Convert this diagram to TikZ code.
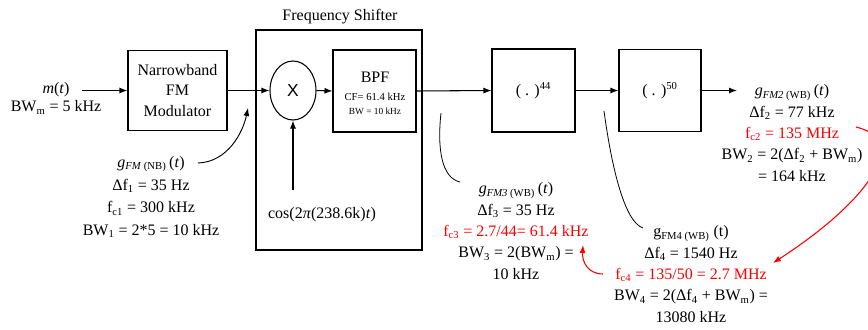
\documentclass[tikz,border=0pt]{standalone}
\usepackage{fontspec}
\setmainfont{Liberation Serif}
\newfontfamily\xsans{Liberation Sans}
\usetikzlibrary{arrows.meta,shapes.geometric}
\begin{document}
\begin{tikzpicture}[x=0.75pt,y=-0.75pt,
  every node/.style={font=\fontsize{12}{17}\selectfont, inner sep=0pt},
  blk/.style={draw, line width=0.8pt, rectangle},
  arr/.style={-{Latex[length=6pt,width=4.5pt]}, line width=0.8pt},
  lead/.style={line width=0.6pt},
  redarr/.style={red, line width=0.8pt, -{Latex[length=6pt,width=4.5pt]}},
  txt/.style={align=center},
  redt/.style={text=red}
]
\useasboundingbox (0,0) rectangle (868,329);

% blocks
\node[blk, minimum width=74.25pt, minimum height=60pt, align=center] (nb) at (177.5,90.5) {Narrowband\\[-2pt]FM\\[-1pt]Modulator};
\node[blk, minimum width=124.5pt, minimum height=165pt] (fs) at (339,140) {};
\node (fst) at (340,17) {Frequency Shifter};
\node[draw, ellipse, line width=0.8pt, minimum width=34.5pt, minimum height=44.25pt, font=\xsans\fontsize{13}{15}\selectfont] (mix) at (293,90.5) {X};
\node[blk, minimum width=62.25pt, minimum height=61.5pt] (bpf) at (374.5,91) {};
\node[anchor=base] (bpfa) at (375,82) {BPF};
\node[anchor=base, font=\fontsize{8}{9}\selectfont] (bpfb) at (375,100.5) {CF= 61.4 kHz};
\node[anchor=base, font=\fontsize{7}{8}\selectfont] (bpfc) at (375,114) {BW = 10 kHz};
\node[blk, minimum width=62.25pt, minimum height=62.25pt] (p44) at (533.5,90.5) {( . )\textsuperscript{44}};
\node[blk, minimum width=61.5pt, minimum height=61.5pt] (p50) at (660,90.5) {( . )\textsuperscript{50}};

% input
\node[txt] (min) at (56,98) {\textit{m}(\textit{t})\\[-3pt]BW\textsubscript{m} = 5 kHz};
\coordinate (in) at (82,90.5);
\coordinate (out) at (737,90.5);
\coordinate (lo) at (293,190);

% main signal path
\draw[arr] (in) -- (nb.west);
\draw[arr] (nb.east) -- (mix.west);
\draw[arr] (mix.east) -- (bpf.west);
\draw[arr] (bpf.east) -- (p44.west);
\draw[arr] (p44.east) -- (p50.west);
\draw[arr] (p50.east) -- (out);
\draw[arr] (lo) -- (mix.south);
\node (cos) at (322,215) {cos(2\textit{π}(238.6k)\textit{t})};

% text blocks
\node[txt] (gnb) at (151,197) {\textit{g}\textsubscript{\textit{FM} (NB)}\,(\textit{t})\\Δf\textsubscript{1} = 35 Hz\\f\textsubscript{c1} = 300 kHz\\BW\textsubscript{1} = 2*5 = 10 kHz};
\node[txt] (g3) at (516,231) {\textit{g}\textsubscript{\textit{FM3} (WB)}\,(\textit{t})\\[-1pt]Δf\textsubscript{3} = 35 Hz\\[-1pt]\textcolor{red}{f\textsubscript{c3} = 2.7/44= 61.4 kHz}\\[-1pt]BW\textsubscript{3} = 2(BW\textsubscript{m}) =\\[-1pt]10 kHz};
\node[txt] (g4) at (691,274) {g\textsubscript{FM4 (WB)} (t)\\[-1pt]Δf\textsubscript{4} = 1540 Hz\\[-1pt]\textcolor{red}{f\textsubscript{c4} = 135/50 = 2.7 MHz}\\[-1pt]BW\textsubscript{4} = 2(Δf\textsubscript{4} + BW\textsubscript{m}) =\\[-1pt]13080 kHz};
\node[txt] (g2) at (792,133) {\textit{g}\textsubscript{\textit{FM2} (WB)}\,(\textit{t})\\[-1pt]Δf\textsubscript{2} = 77 kHz\\[-1pt]\textcolor{red}{f\textsubscript{c2} = 135 MHz}\\[-1pt]BW\textsubscript{2} = 2(Δf\textsubscript{2} + BW\textsubscript{m})\\[-1pt]= 164 kHz};

% leader curves
\coordinate (c1s) at (198,163);
\coordinate (c1e) at (248,108);
\draw[arr, line width=0.7pt] (c1s) .. controls (228,162) and (243,132) .. (c1e);
\coordinate (c2s) at (441,113);
\coordinate (c2e) at (460,182);
\draw[lead] (c2s) .. controls (437,150) and (442,178) .. (c2e);
\coordinate (c3s) at (604,111);
\coordinate (c3e) at (643,228);
\draw[lead] (c3s) .. controls (612,170) and (625,222) .. (c3e);

% red arrows
\coordinate (r1s) at (856,127);
\coordinate (r1e) at (773,263);
\draw[redarr] (r1s) .. controls (910,140) and (870,200) .. (r1e);
\coordinate (r2s) at (603,274);
\coordinate (r2e) at (583,245);
\draw[redarr] (r2s) .. controls (588,274) and (582,262) .. (r2e);
\end{tikzpicture}
\end{document}
